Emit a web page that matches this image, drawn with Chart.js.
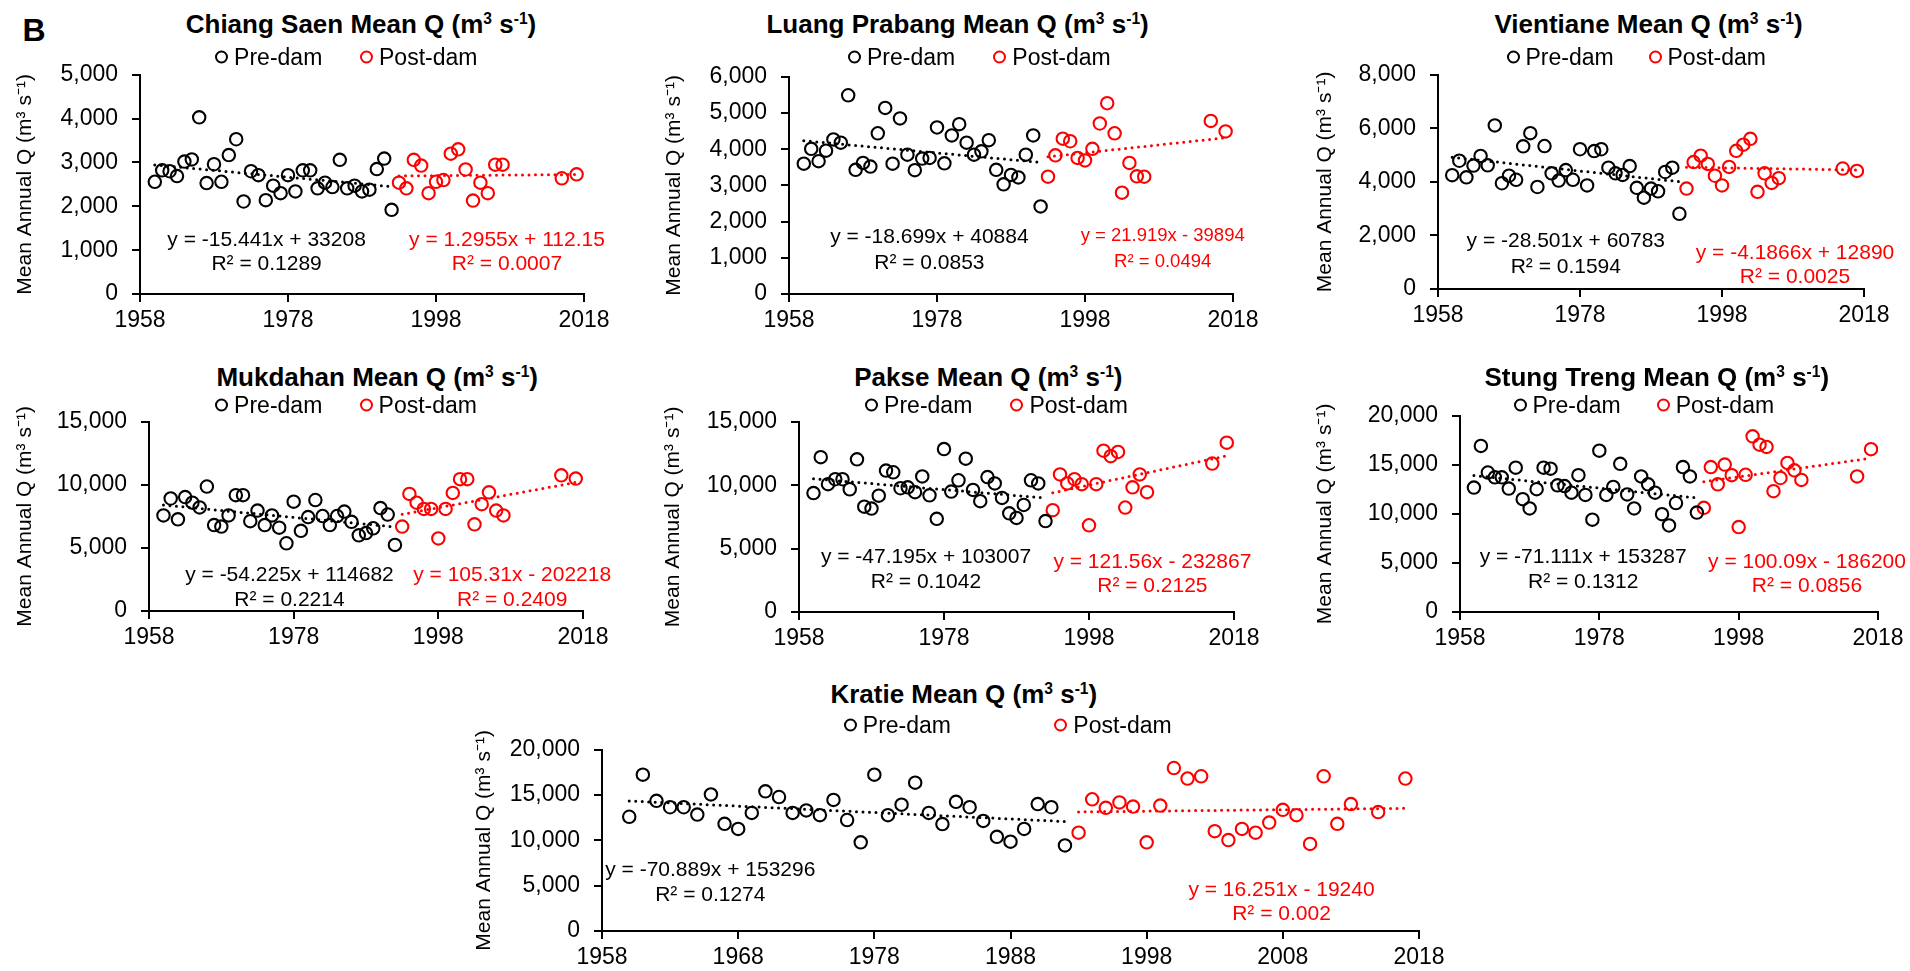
<!DOCTYPE html>
<html>
<head>
<meta charset="utf-8">
<title>Mean annual discharge, pre-dam and post-dam</title>
<script src="https://cdn.jsdelivr.net/npm/chart.js@4.4.1/dist/chart.umd.min.js"></script>
<style>
  body {
    margin: 0;
    background: #fff;
    width: 1910px;
    height: 971px;
    position: relative;
    overflow: hidden;
    font-family: "Liberation Sans", Arial, sans-serif;
    color: #000;
  }
  canvas { position: absolute; }
  .txt {
    position: absolute;
    transform: translate(-50%, -50%);
    line-height: 1;
    white-space: nowrap;
  }
  .title { font-weight: bold; font-size: 26px; }
  .title sup { font-size: 0.6em; vertical-align: 0.6em; line-height: 0; }
  .eq { font-size: 21px; }
  .red { color: #ff0000; }
  .leg {
    position: absolute;
    transform: translateY(-50%);
    display: flex;
    align-items: center;
    gap: 6px;
    font-size: 23px;
    line-height: 1;
    white-space: nowrap;
  }
  .mark {
    width: 13px;
    height: 13px;
    box-sizing: border-box;
    border: 2px solid #000;
    border-radius: 50%;
  }
  .leg.red .mark { border-color: #ff0000; }
  .leg.red { color: #000; }
  .panel-letter { font-weight: bold; font-size: 32px; }
</style>
</head>
<body>
<div class="txt panel-letter" style="left:34px;top:30px;">B</div>
<script>
// years
const preYears = [1960, 1961, 1962, 1963, 1964, 1965, 1966, 1967, 1968, 1969, 1970, 1971, 1972, 1973, 1974, 1975, 1976,
  1977, 1978, 1979, 1980, 1981, 1982, 1983, 1984, 1985, 1986, 1987, 1988, 1989, 1990, 1991, 1992];
const postYearsLong = [1993, 1994, 1995, 1996, 1997, 1998, 1999, 2000, 2001, 2002, 2003, 2004, 2005, 2006, 2007, 2015, 2017];
const postYearsShort = [1993, 1994, 1995, 1996, 1997, 1998, 1999, 2000, 2001, 2002, 2003, 2004, 2005, 2006, 2015, 2017];
const kratiePostYears = [1993, 1994, 1995, 1996, 1997, 1998, 1999, 2000, 2001, 2002, 2003, 2004, 2005, 2006, 2007,
  2008, 2009, 2010, 2011, 2012, 2013, 2015, 2017];

// mean annual Q (m3/s)
const chiangSaenPre = [2560, 2820, 2800, 2690, 3020, 3070, 4030, 2530, 2960, 2560, 3170, 3530, 2110, 2800, 2710, 2140, 2470,
  2300, 2710, 2340, 2820, 2820, 2410, 2540, 2440, 3060, 2410, 2470, 2340, 2380, 2850, 3090, 1920];
const chiangSaenPost = [2540, 2410, 3060, 2930, 2300, 2560, 2600, 3200, 3300, 2840, 2130, 2540, 2300, 2950, 2950, 2640, 2730];

const luangPrabangPre = [3600, 4010, 3670, 3960, 4270, 4180, 5490, 3430, 3620, 3520, 4440, 5140, 3600, 4850, 3850, 3420, 3740,
  3760, 4600, 3610, 4380, 4690, 4180, 3850, 3940, 4250, 3430, 3030, 3290, 3220, 3850, 4380, 2420];
const luangPrabangPost = [3240, 3830, 4290, 4220, 3760, 3690, 4010, 4710, 5270, 4440, 2800, 3620, 3250, 3240, 4780, 4490];

const vientianePre = [4250, 4790, 4170, 4610, 4970, 4620, 6110, 3950, 4230, 4080, 5330, 5820, 3810, 5340, 4320, 4050, 4440,
  4080, 5220, 3870, 5150, 5220, 4530, 4320, 4260, 4590, 3780, 3410, 3750, 3650, 4370, 4530, 2810];
const vientianePost = [3750, 4740, 4980, 4670, 4230, 3870, 4560, 5160, 5390, 5610, 3630, 4320, 3960, 4140, 4500, 4410];

const mukdahanPre = [7580, 8920, 7270, 9030, 8590, 8210, 9870, 6810, 6690, 7580, 9180, 9180, 7120, 7960, 6810, 7580, 6610,
  5370, 8670, 6360, 7450, 8800, 7530, 6810, 7530, 7880, 7070, 6000, 6180, 6560, 8160, 7650, 5240];
const mukdahanPost = [6690, 9280, 8590, 8090, 8090, 5750, 8090, 9360, 10450, 10450, 6870, 8470, 9410, 7960, 7580, 10760, 10500];

const paksePre = [9380, 12210, 10080, 10470, 10470, 9680, 12040, 8310, 8160, 9170, 11150, 11020, 9760, 9830, 9450, 10690, 9200,
  7350, 12850, 9500, 10390, 12090, 9630, 8740, 10640, 10140, 9000, 7780, 7420, 8440, 10390, 10140, 7170];
const paksePost = [8030, 10850, 10140, 10470, 10080, 6840, 10080, 12720, 12290, 12620, 8240, 9830, 10850, 9450, 11710, 13350];

const stungTrengPre = [12680, 16930, 14220, 13730, 13730, 12580, 14710, 11500, 10560, 12520, 14710, 14610, 12910, 12840, 12160,
  13950, 11930, 9410, 16440, 11930, 12750, 15100, 11990, 10560, 13820, 13010, 12160, 9970, 8820, 11110, 14770, 13820, 10130];
const stungTrengPost = [10620, 14770, 13010, 15030, 13950, 8660, 13990, 17910, 17060, 16830, 12320, 13660, 15200, 14440, 13460,
  13820, 16600];

const kratiePre = [12610, 17250, 14370, 13660, 13660, 12850, 15070, 11830, 11270, 13030, 15420, 14790, 13030, 13310, 12780,
  14470, 12250, 9790, 17250, 12780, 13940, 16370, 13030, 11800, 14260, 13660, 12150, 10390, 9860, 11270, 14010, 13660, 9440];
const kratiePost = [10850, 14540, 13590, 14190, 13730, 9790, 13840, 17990, 16830, 17080, 11020, 10040, 11270, 10850, 11970,
  13380, 12780, 9610, 17080, 11830, 14010, 13130, 16830];

// linear trends as printed: [slope, intercept, R2]
const chiangSaenFit = { pre: [-15.441, 33208, 0.1289], post: [1.2955, 112.15, 0.0007] };
const luangPrabangFit = { pre: [-18.699, 40884, 0.0853], post: [21.919, -39894, 0.0494] };
const vientianeFit = { pre: [-28.501, 60783, 0.1594], post: [-4.1866, 12890, 0.0025] };
const mukdahanFit = { pre: [-54.225, 114682, 0.2214], post: [105.31, -202218, 0.2409] };
const pakseFit = { pre: [-47.195, 103007, 0.1042], post: [121.56, -232867, 0.2125] };
const stungTrengFit = { pre: [-71.111, 153287, 0.1312], post: [100.09, -186200, 0.0856] };
const kratieFit = { pre: [-70.889, 153296, 0.1274], post: [16.251, -19240, 0.002] };

// layout of each small chart on the page
const panels = [
  { name: "Chiang Saen", pre: chiangSaenPre, post: chiangSaenPost, postYears: postYearsLong, fit: chiangSaenFit,
    plot: { l: 140, t: 67, r: 584, b: 294 }, ytx: 25.5, yMax: 5000, yStep: 1000, xStep: 20,
    title: [361, 24], legend: [[221.6, 57], [366.5, 57]], eqPre: [266.6, 237.8, 262.2], eqPost: [507, 237.8, 262.2], postSize: 21 },
  { name: "Luang Prabang", pre: luangPrabangPre, post: luangPrabangPost, postYears: postYearsShort, fit: luangPrabangFit,
    plot: { l: 789, t: 69, r: 1233, b: 294 }, ytx: 674.5, yMax: 6000, yStep: 1000, xStep: 20,
    title: [957.6, 24], legend: [[854.5, 56.7], [999.8, 56.7]], eqPre: [929.4, 235, 261], eqPost: [1162.7, 235, 261], postSize: 18.5 },
  { name: "Vientiane", pre: vientianePre, post: vientianePost, postYears: postYearsShort, fit: vientianeFit,
    plot: { l: 1438, t: 67, r: 1864, b: 289 }, ytx: 1325.7, yMax: 8000, yStep: 2000, xStep: 20,
    title: [1648.6, 24], legend: [[1513, 57.3], [1655, 57.3]], eqPre: [1565.8, 239.3, 265], eqPost: [1795, 250.7, 275.3], postSize: 21 },
  { name: "Mukdahan", pre: mukdahanPre, post: mukdahanPost, postYears: postYearsLong, fit: mukdahanFit,
    plot: { l: 149, t: 414, r: 583, b: 611 }, ytx: 25.5, yMax: 15000, yStep: 5000, xStep: 20,
    title: [377.2, 376.7], legend: [[221.6, 405], [366.1, 405]], eqPre: [289.5, 573.3, 597.7], eqPost: [512.2, 573.3, 597.7], postSize: 21 },
  { name: "Pakse", pre: paksePre, post: paksePost, postYears: postYearsShort, fit: pakseFit,
    plot: { l: 799, t: 414, r: 1234, b: 612 }, ytx: 673.9, yMax: 15000, yStep: 5000, xStep: 20,
    title: [988.4, 377.3], legend: [[871.6, 405], [1016.9, 405]], eqPre: [926, 555, 580], eqPost: [1152.4, 560, 584.3], postSize: 21 },
  { name: "Stung Treng", pre: stungTrengPre, post: stungTrengPost, postYears: postYearsLong, fit: stungTrengFit,
    plot: { l: 1460, t: 408, r: 1878, b: 612 }, ytx: 1325.7, yMax: 20000, yStep: 5000, xStep: 20,
    title: [1656.8, 377.3], legend: [[1520, 405], [1663.2, 405]], eqPre: [1583.2, 555, 580], eqPost: [1807, 560, 584.3], postSize: 21 },
  { name: "Kratie", pre: kratiePre, post: kratiePost, postYears: kratiePostYears, fit: kratieFit,
    plot: { l: 602, t: 742, r: 1419, b: 931 }, ytx: 485, yMax: 20000, yStep: 5000, xStep: 10,
    title: [963.8, 694.3], legend: [[850.3, 725], [1060.8, 725]], eqPre: [710.3, 868.3, 893.3], eqPost: [1281.5, 888.3, 912.3], postSize: 21 },
];

const RED = "#ff0000";
const PAD_TOP = 20;
const PAD_RIGHT = 32;
const X_AXIS_H = 40;

Chart.defaults.font.family = '"Liberation Sans", Arial, sans-serif';
Chart.defaults.color = "#000";

function addText(html, cls, x, y, size) {
  const el = document.createElement("div");
  el.className = "txt " + cls;
  el.innerHTML = html;
  el.style.left = x + "px";
  el.style.top = y + "px";
  if (size) el.style.fontSize = size + "px";
  document.body.appendChild(el);
}

function addLegendItem(label, cx, cy, red) {
  const el = document.createElement("div");
  el.className = "leg" + (red ? " red" : "");
  el.style.left = (cx - 6.5) + "px";
  el.style.top = cy + "px";
  el.innerHTML = `<span class="mark"></span><span>${label}</span>`;
  document.body.appendChild(el);
}

function equation(fit) {
  const [a, b] = fit;
  return `y = ${a}x ${b < 0 ? "-" : "+"} ${Math.abs(b)}`;
}

function trendPoints(fit, years) {
  const first = years[0];
  const last = years[years.length - 1];
  return [
    { x: first, y: fit[0] * first + fit[1] },
    { x: last, y: fit[0] * last + fit[1] },
  ];
}

function axisStyle() {
  return {
    grid: { display: true, drawOnChartArea: false, drawTicks: true, tickLength: 8, color: "#000", lineWidth: 2 },
    border: { display: true, color: "#000", width: 2 },
  };
}

function drawPanel(p) {
  const canvasLeft = Math.round(p.ytx - 12.6);
  const yAxisW = p.plot.l - canvasLeft;
  const width = p.plot.r + PAD_RIGHT - canvasLeft;
  const height = PAD_TOP + (p.plot.b - p.plot.t) + X_AXIS_H;

  const canvas = document.createElement("canvas");
  canvas.width = width;
  canvas.height = height;
  canvas.style.left = canvasLeft + "px";
  canvas.style.top = (p.plot.t - PAD_TOP) + "px";
  canvas.style.width = width + "px";
  canvas.style.height = height + "px";
  document.body.appendChild(canvas);

  const pointStyle = (color) => ({
    showLine: false,
    pointStyle: "circle",
    pointRadius: 6.2,
    pointBorderWidth: 2.1,
    pointBorderColor: color,
    pointBackgroundColor: "rgba(0,0,0,0)",
    borderColor: color,
    backgroundColor: "rgba(0,0,0,0)",
  });
  const trendStyle = (color) => ({
    showLine: true,
    pointRadius: 0,
    borderColor: color,
    borderWidth: 3,
    borderDash: [0, 6.5],
    borderCapStyle: "round",
    fill: false,
  });

  new Chart(canvas.getContext("2d"), {
    type: "scatter",
    data: {
      datasets: [
        { label: "Pre-dam", data: preYears.map((yr, i) => ({ x: yr, y: p.pre[i] })), ...pointStyle("#000") },
        { label: "Post-dam", data: p.postYears.map((yr, i) => ({ x: yr, y: p.post[i] })), ...pointStyle(RED) },
        { label: "Pre-dam trend", data: trendPoints(p.fit.pre, preYears), ...trendStyle("#000") },
        { label: "Post-dam trend", data: trendPoints(p.fit.post, p.postYears), ...trendStyle(RED) },
      ],
    },
    options: {
      responsive: false,
      animation: false,
      devicePixelRatio: 1,
      layout: { padding: { top: PAD_TOP, right: PAD_RIGHT, left: 0, bottom: 0 } },
      plugins: { legend: { display: false }, tooltip: { enabled: false } },
      scales: {
        x: {
          type: "linear",
          min: 1958,
          max: 2018,
          ...axisStyle(),
          ticks: {
            stepSize: p.xStep,
            autoSkip: false,
            maxRotation: 0,
            padding: 5,
            font: { size: 23 },
            callback: (v) => String(v),
          },
          afterFit: (scale) => { scale.height = X_AXIS_H; },
        },
        y: {
          type: "linear",
          min: 0,
          max: p.yMax,
          ...axisStyle(),
          ticks: {
            stepSize: p.yStep,
            padding: 14,
            font: { size: 23 },
            callback: (v) => v.toLocaleString("en-US"),
          },
          title: { display: true, text: "Mean Annual Q (m³ s⁻¹)", font: { size: 21 }, padding: 0 },
          afterFit: (scale) => { scale.width = yAxisW; },
        },
      },
    },
  });

  addText(`${p.name} Mean Q (m<sup>3</sup> s<sup>-1</sup>)`, "title", p.title[0], p.title[1]);
  addLegendItem("Pre-dam", p.legend[0][0], p.legend[0][1], false);
  addLegendItem("Post-dam", p.legend[1][0], p.legend[1][1], true);
  addText(equation(p.fit.pre), "eq", p.eqPre[0], p.eqPre[1]);
  addText(`R² = ${p.fit.pre[2]}`, "eq", p.eqPre[0], p.eqPre[2]);
  addText(equation(p.fit.post), "eq red", p.eqPost[0], p.eqPost[1], p.postSize);
  addText(`R² = ${p.fit.post[2]}`, "eq red", p.eqPost[0], p.eqPost[2], p.postSize);
}

panels.forEach(drawPanel);
</script>
</body>
</html>
